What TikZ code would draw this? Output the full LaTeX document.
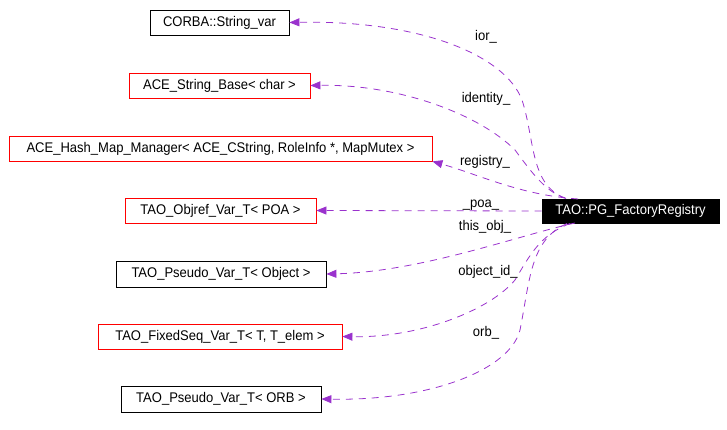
\documentclass[tikz,border=0pt]{standalone}
\usepackage{fontspec}
\setmainfont{Liberation Sans}[FakeStretch=0.93]
\usetikzlibrary{arrows.meta}
\definecolor{edgec}{HTML}{9A32CD}
\tikzset{
  cls/.style={draw=black, line width=0.8pt, minimum height=25pt, inner xsep=0pt, inner ysep=0pt, font=\fontsize{14}{16}\selectfont},
  redcls/.style={cls, draw=red},
  maincls/.style={cls, fill=black, text=white},
  rel/.style={draw=edgec, line width=0.8pt, dash pattern=on 7pt off 6pt, -{Triangle[length=10pt,width=8pt,fill=edgec]}},
  lbl/.style={font=\fontsize{14}{16}\selectfont, inner sep=0pt}
}
\begin{document}
\begin{tikzpicture}[x=1pt,y=-1pt]
\useasboundingbox (0,0) rectangle (727,430);
\node[cls, minimum width=139pt] (corba) at (219.5,22.5) {CORBA::String\_var};
\node[redcls, minimum width=181pt] (strbase) at (219.5,85.5) {ACE\_String\_Base< char >};
\node[redcls, minimum width=423pt] (hash) at (220.5,148.5) {ACE\_Hash\_Map\_Manager< ACE\_CString, RoleInfo *, MapMutex >};
\node[redcls, minimum width=191pt] (objref) at (220.5,210.5) {TAO\_Objref\_Var\_T< POA >};
\node[cls, minimum width=210pt, minimum height=26pt] (pobj) at (221,274) {TAO\_Pseudo\_Var\_T< Object >};
\node[redcls, minimum width=244pt] (fseq) at (220,336.5) {TAO\_FixedSeq\_Var\_T< T, T\_elem >};
\node[cls, minimum width=200pt, minimum height=26pt] (porb) at (221,399) {TAO\_Pseudo\_Var\_T< ORB >};
\node[maincls, minimum width=177pt, minimum height=24pt] (main) at (630.5,211) {TAO::PG\_FactoryRegistry};

\coordinate (s1) at (565,198);
\coordinate (s2) at (566,198.5);
\coordinate (s3) at (578,199);
\coordinate (s5) at (575,223);
\coordinate (s6) at (570,223.5);
\coordinate (s7) at (567,223.5);

\draw[rel] (s1) .. controls (530,185) and (535,140) .. (522,100) .. controls (505,55) and (420,20) .. (corba.east);
\draw[rel] (s2) .. controls (545,192) and (530,170) .. (515,150) .. controls (480,115) and (400,84) .. (strbase.east);
\draw[rel] (s3) .. controls (520,195) and (480,175) .. (hash.south east);
\draw[rel] (main.west) -- (objref.east);
\draw[rel] (s5) .. controls (520,235) and (420,272) .. (pobj.east);
\draw[rel] (s6) .. controls (540,235) and (530,255) .. (515,280) .. controls (490,310) and (420,338) .. (fseq.east);
\draw[rel] (s7) .. controls (530,240) and (530,280) .. (520,330) .. controls (510,370) and (430,401) .. (porb.east);

\node[lbl] (l1) at (486,37) {ior\_};
\node[lbl] (l2) at (486,99) {identity\_};
\node[lbl] (l3) at (485,162) {registry\_};
\node[lbl] (l4) at (481,205) {\_poa\_};
\node[lbl] (l5) at (485,227) {this\_obj\_};
\node[lbl] (l6) at (488,272) {object\_id\_};
\node[lbl] (l7) at (486,333) {orb\_};
\end{tikzpicture}
\end{document}
